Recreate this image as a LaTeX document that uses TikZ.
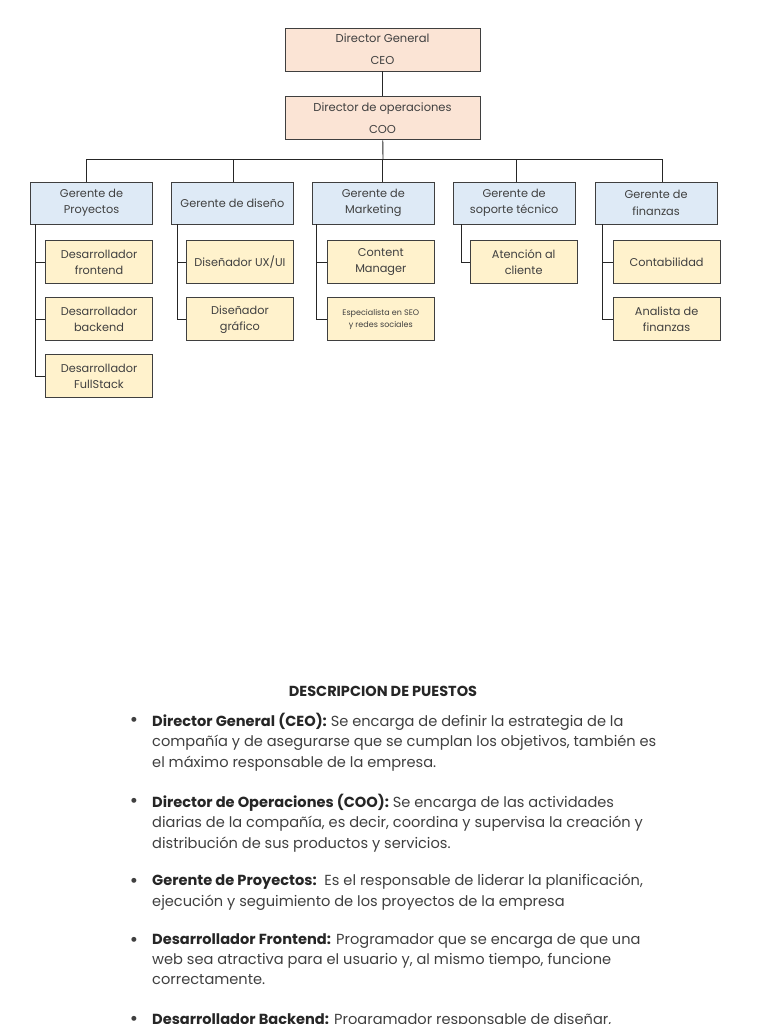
\documentclass[tikz,border=0pt]{standalone}
\usepackage{fontspec}
\setmainfont{Poppins}
\usepackage{xcolor}
\usetikzlibrary{positioning}
\definecolor{topFill}{HTML}{FBE4D5}
\definecolor{mgrFill}{HTML}{DEEAF6}
\definecolor{subFill}{HTML}{FFF2CC}
\definecolor{boxLine}{HTML}{3F3F3F}
\definecolor{txtGray}{HTML}{404040}
\tikzstyle{nodeTop}=[draw=boxLine, fill=topFill, line width=0.9pt, minimum width=195pt, minimum height=43pt, inner sep=0pt, align=center, text=txtGray, font=\fontsize{11.5}{22}\selectfont]
\tikzstyle{nodeMgr}=[draw=boxLine, fill=mgrFill, line width=0.9pt, minimum width=122pt, minimum height=42pt, inner sep=0pt, align=center, text=txtGray, font=\fontsize{11.3}{16.5}\selectfont]
\tikzstyle{nodeSub}=[draw=boxLine, fill=subFill, line width=0.9pt, minimum width=107pt, minimum height=43pt, inner sep=0pt, align=center, text=txtGray, font=\fontsize{11.3}{16}\selectfont]
\tikzstyle{link}=[draw=black!85, line width=0.9pt]
\tikzstyle{descItem}=[anchor=north west, inner sep=0pt, align=left, text=txtGray, font=\fontsize{14.6}{20.3}\selectfont]
\tikzstyle{bulletDot}=[inner sep=0pt, text=txtGray, font=\fontsize{20}{20}\selectfont]

\begin{document}
\begin{tikzpicture}[x=1pt, y=1pt]
  \useasboundingbox[fill=white] (0,0) rectangle (768,-1024);
  % organigrama
  \node[nodeTop] (ceo) at (382.5,-49.5) {Director General\\CEO};
  \node[nodeTop] (coo) [below = 25pt of ceo] {Director de operaciones\\COO};
  \coordinate (bus) at (383,-159);

  \node[nodeMgr] (pp) at (91.5,-203) {Gerente de\\Proyectos};
  \node[nodeMgr] (pd) [right = 18pt of pp] {Gerente de diseño};
  \node[nodeMgr] (pm) [right = 18pt of pd] {Gerente de\\Marketing};
  \node[nodeMgr] (ps) [right = 18pt of pm] {Gerente de\\soporte técnico};
  \node[nodeMgr] (pf) [right = 19pt of ps] {Gerente de\\finanzas};

  \node[nodeSub] (pp1) [below left = 16pt and 0pt of pp.south east] {Desarrollador\\frontend};
  \node[nodeSub] (pp2) [below = 13pt of pp1] {Desarrollador\\backend};
  \node[nodeSub] (pp3) [below = 13pt of pp2] {Desarrollador\\FullStack};
  \node[nodeSub] (pd1) [below left = 16pt and 0pt of pd.south east] {Diseñador UX/UI};
  \node[nodeSub] (pd2) [below = 13pt of pd1] {Diseñador\\gráfico};
  \node[nodeSub] (pm1) [below left = 16pt and 0pt of pm.south east] {Content\\Manager};
  \node[nodeSub, font=\fontsize{8}{12}\selectfont] (pm2) [below = 13pt of pm1] {Especialista en SEO\\y redes sociales};
  \node[nodeSub] (ps1) [below left = 16pt and -2pt of ps.south east] {Atención al\\cliente};
  \node[nodeSub] (pf1) [below left = 16pt and -3pt of pf.south east] {Contabilidad};
  \node[nodeSub] (pf2) [below = 13pt of pf1] {Analista de\\finanzas};

  \draw[link] (ceo) -- (coo);
  \draw[link] (coo) -- (bus);
  \draw[link] ([xshift=-5.5pt]pp.north) |- ([xshift=6.5pt]pf.north |- bus) -- ([xshift=6.5pt]pf.north);
  \draw[link] ([xshift=1.5pt]pd.north) -- ([xshift=1.5pt]pd.north |- bus);
  \draw[link] ([xshift=9pt]pm.north) -- ([xshift=9pt]pm.north |- bus);
  \draw[link] ([xshift=2.5pt]ps.north) -- ([xshift=2.5pt]ps.north |- bus);

  \draw[link] ([xshift=5pt]pp.south west) |- (pp1.west);
  \draw[link] ([xshift=5pt]pp.south west) |- (pp2.west);
  \draw[link] ([xshift=5pt]pp.south west) |- (pp3.west);
  \draw[link] ([xshift=6pt]pd.south west) |- (pd1.west);
  \draw[link] ([xshift=6pt]pd.south west) |- (pd2.west);
  \draw[link] ([xshift=5pt]pm.south west) |- (pm1.west);
  \draw[link] ([xshift=5pt]pm.south west) |- (pm2.west);
  \draw[link] ([xshift=9pt]ps.south west) |- (ps1.west);
  \draw[link] ([xshift=8pt]pf.south west) |- (pf1.west);
  \draw[link] ([xshift=8pt]pf.south west) |- (pf2.west);

  % descripcion de puestos
  \node[text=black!85, font=\fontsize{14.5}{16}\selectfont\bfseries] (title) at (383,-691) {DESCRIPCION DE PUESTOS};

  \node[descItem] (d1) at (152,-713) {\textbf{\color{black!85}Director General (CEO):} Se encarga de definir la estrategia de la\\compañía y de asegurarse que se cumplan los objetivos, también es\\el máximo responsable de la empresa.};
  \node[descItem] (d2) at (152,-794) {\textbf{\color{black!85}Director de Operaciones (COO):} Se encarga de las actividades\\diarias de la compañía, es decir, coordina y supervisa la creación y\\distribución de sus productos y servicios.};
  \node[descItem] (d3) at (152,-874) {\textbf{\color{black!85}Gerente de Proyectos:}\ \ Es el responsable de liderar la planificación,\\ejecución y seguimiento de los proyectos de la empresa};
  \node[descItem] (d4) at (152,-933) {\textbf{\color{black!85}Desarrollador Frontend:} Programador que se encarga de que una\\web sea atractiva para el usuario y, al mismo tiempo, funcione\\correctamente.};
  \node[descItem] (d5) at (152,-1013) {\textbf{\color{black!85}Desarrollador Backend:} Programador responsable de diseñar,};

  \node[bulletDot] (b1) at (134,-722) {•};
  \node[bulletDot] (b2) at (134,-803) {•};
  \node[bulletDot] (b3) at (134,-883) {•};
  \node[bulletDot] (b4) at (134,-942) {•};
  \node[bulletDot] (b5) at (134,-1021) {•};
\end{tikzpicture}
\end{document}
